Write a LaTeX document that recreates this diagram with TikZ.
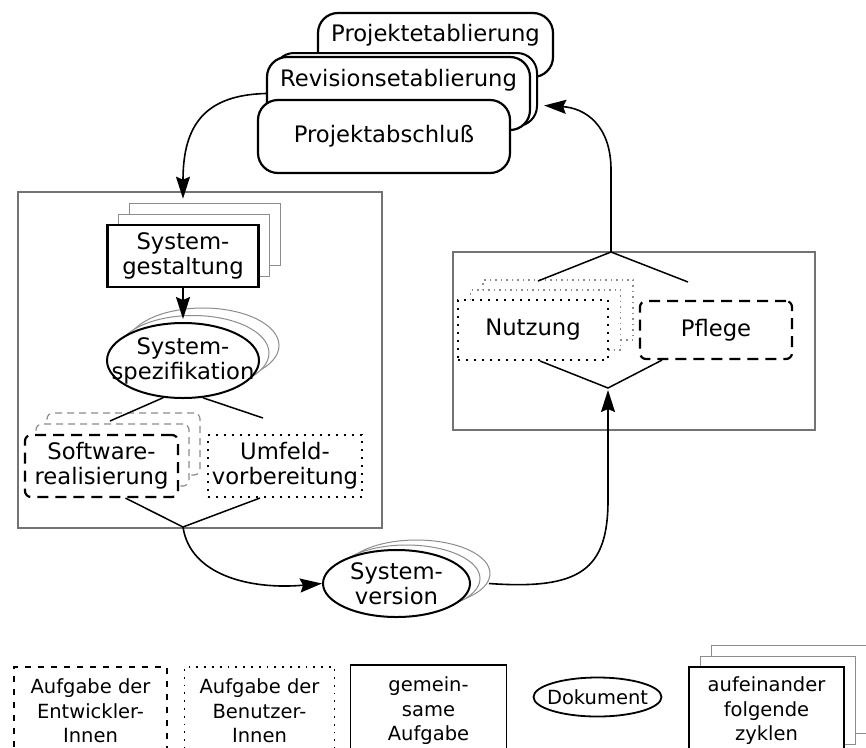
\documentclass[tikz,border=0pt]{standalone}
\usepackage{fontspec}
\setmainfont{DejaVu Sans}
\newcommand{\Gross}{\fontsize{22.7pt}{25pt}\selectfont}
\newcommand{\Klein}{\fontsize{19.5pt}{24.5pt}\selectfont}
\newcommand{\Zeile}[1]{\makebox[0pt]{#1}}
\usetikzlibrary{shapes.geometric,shadows,arrows.meta}

\begin{document}
\begin{tikzpicture}[x=1pt,y=-1pt]
          \tikzstyle{phase} = [draw=black!55, line width=1.5pt, inner sep=0pt]
          \tikzstyle{stufe} = [draw, line width=2.2pt, fill=white, rounded corners=20pt, inner sep=0pt, font=\Gross]
          \tikzstyle{gemeinsam} = [draw, line width=2.6pt, fill=white, align=center, inner sep=2pt, font=\Gross]
          \tikzstyle{dokument} = [ellipse, draw, line width=2pt, fill=white, inner sep=0pt, align=center, font=\Gross]
          \tikzstyle{entwickler} = [draw, line width=2.2pt, dash pattern=on 11pt off 7pt, rounded corners=6pt,
            fill=white, align=center, inner sep=2pt, font=\Gross]
          \tikzstyle{benutzer} = [draw, line width=2pt, dash pattern=on 2pt off 6pt,
            fill=white, align=center, inner sep=2pt, font=\Gross]
          \tikzstyle{legende} = [fill=white, align=center, inner sep=2pt, line width=1.8pt, font=\Klein]
          \tikzstyle{line} = [draw, line width=1.6pt, -{Stealth[length=22pt,width=14pt,inset=3pt]}]
          \tikzstyle{ast} = [draw, line width=1.5pt]
          \tikzset{stapel/.style n args={3}{
              copy shadow={shadow xshift=2*#1, shadow yshift=2*#2, #3},
              copy shadow={shadow xshift=#1, shadow yshift=#2, #3}}}

          \useasboundingbox (0,0) rectangle (866,747);
          \clip (0,0) rectangle (866,747);

          % Rahmen der beiden Phasen
          \node(Entwicklungsphase)[phase, minimum width=364pt, minimum height=336pt] at (200,360) {};
          \node(Einsatzphase)[phase, minimum width=362pt, minimum height=178pt] at (634,341) {};

          % Projektstufen
          \node(Projektetablierung)[stufe, minimum width=235pt, text height=28.6pt, text depth=35.4pt] at (435.5,45) {Projektetablierung};
          \node(Revisionsetablierung)[stufe, copy shadow={shadow xshift=7pt, shadow yshift=4pt, line width=2pt},
            minimum width=263pt, text height=29.6pt, text depth=43.4pt] at (398.5,93.5) {Revisionsetablierung};
          \node(Projektabschluss)[stufe, minimum width=252pt, text height=42.6pt, text depth=30.4pt] at (384,136.5) {Projektabschlu\ss};

          % Entwicklung
          \node(Systemgestaltung)[gemeinsam, stapel={11pt}{11pt}{draw=black!45, line width=1pt},
            minimum width=151pt, minimum height=62pt] at (183,256) {System-\\gestaltung};
          \tikzset{node distance = 104.5pt}
          \node(Systemspezifikation)[dokument, stapel={10pt}{7.5pt}{draw=black!45, line width=1pt},
            minimum width=152pt, minimum height=75pt, below of = Systemgestaltung] {\Zeile{System-}\\\Zeile{spezifikation}};

          \node(Softwarerealisierung)[entwickler, stapel={11pt}{11pt}{draw=black!45, line width=1.2pt, dash pattern=on 7pt off 5pt},
            minimum width=153pt, minimum height=62pt] at (101.5,466) {Software-\\realisierung};
          \tikzset{node distance = 183.5pt}
          \node(Umfeldvorbereitung)[benutzer, minimum width=154pt, minimum height=62pt,
            right of = Softwarerealisierung] {Umfeld-\\vorbereitung};

          \node(Systemversion)[dokument, stapel={10pt}{5pt}{draw=black!45, line width=1pt},
            minimum width=147pt, minimum height=67pt] at (396.5,583.5) {\Zeile{System-}\\\Zeile{version}};

          % Einsatz
          \node(Nutzung)[benutzer, stapel={12.5pt}{10pt}{draw=black!45, line width=1.2pt, dash pattern=on 1.5pt off 4pt},
            minimum width=150pt, minimum height=60pt] at (533,330) {Nutzung};
          \tikzset{node distance = 183pt}
          \node(Pflege)[entwickler, minimum width=152pt, minimum height=58pt, right of = Nutzung] {Pflege};

          % Verzweigungen
          \coordinate (SoftwareAst) at (110,421);
          \coordinate (UmfeldAst) at (263,418);
          \coordinate (Zusammenfluss) at (183,527);
          \coordinate (Verteilpunkt) at (611,252);
          \coordinate (NutzungAst) at (538,281);
          \coordinate (PflegeAst) at (688,282);
          \coordinate (Sammelpunkt) at (608,390);

          \draw[line] (Revisionsetablierung.west) .. controls (205,95) and (183,125) .. ([yshift=25pt]Systemgestaltung.north);
          \draw[line] (Systemgestaltung.south) -- ([yshift=3pt]Systemspezifikation.north);
          \draw[ast] (Systemspezifikation.-118) -- (SoftwareAst);
          \draw[ast] (Systemspezifikation.-62) -- (UmfeldAst);
          \draw[ast] ([xshift=24pt]Softwarerealisierung.south) -- (Zusammenfluss) -- ([xshift=-25pt]Umfeldvorbereitung.south);
          \draw[line] (Zusammenfluss) .. controls (190,575) and (250,590) .. (Systemversion.west);
          \draw[line] ([xshift=18pt]Systemversion.east) .. controls (580,590) and (608,570) .. (608,500) -- (Sammelpunkt);
          \draw[ast] ([xshift=7pt]Nutzung.south) -- ([yshift=2pt]Sammelpunkt) -- ([xshift=-54pt]Pflege.south);
          \draw[ast] (NutzungAst) -- (Verteilpunkt) -- (PflegeAst);
          \draw[line] (Verteilpunkt) -- (611,170) .. controls (611,125) and (585,108) .. ([xshift=13pt,yshift=-12pt]Revisionsetablierung.east);

          % Legende
          \tikzset{node distance = 169pt}
          \node(LegendeEntwickler)[legende, draw, dash pattern=on 6pt off 7pt, minimum width=153pt, minimum height=88pt]
            at (90.5,711) {Aufgabe der\\Entwickler-\\Innen};
          \node(LegendeBenutzer)[legende, draw, dash pattern=on 1.8pt off 6pt, minimum width=150pt, minimum height=88pt,
            right of = LegendeEntwickler] {Aufgabe der\\Benutzer-\\Innen};
          \node(LegendeGemeinsam)[legende, draw, minimum width=156pt, minimum height=92pt,
            right of = LegendeBenutzer] {gemein-\\same\\Aufgabe};
          \node(LegendeDokument)[legende, ellipse, draw, inner sep=0pt, minimum width=128pt, minimum height=39pt,
            right of = LegendeGemeinsam, yshift=14pt] {\Zeile{Dokument}};
          \node(LegendeZyklen)[legende, draw, stapel={11pt}{11pt}{draw=black!45, line width=1pt},
            minimum width=155pt, minimum height=88pt, right of = LegendeDokument, yshift=-14pt] {aufeinander\\folgende\\zyklen};
        \end{tikzpicture}
\end{document}
